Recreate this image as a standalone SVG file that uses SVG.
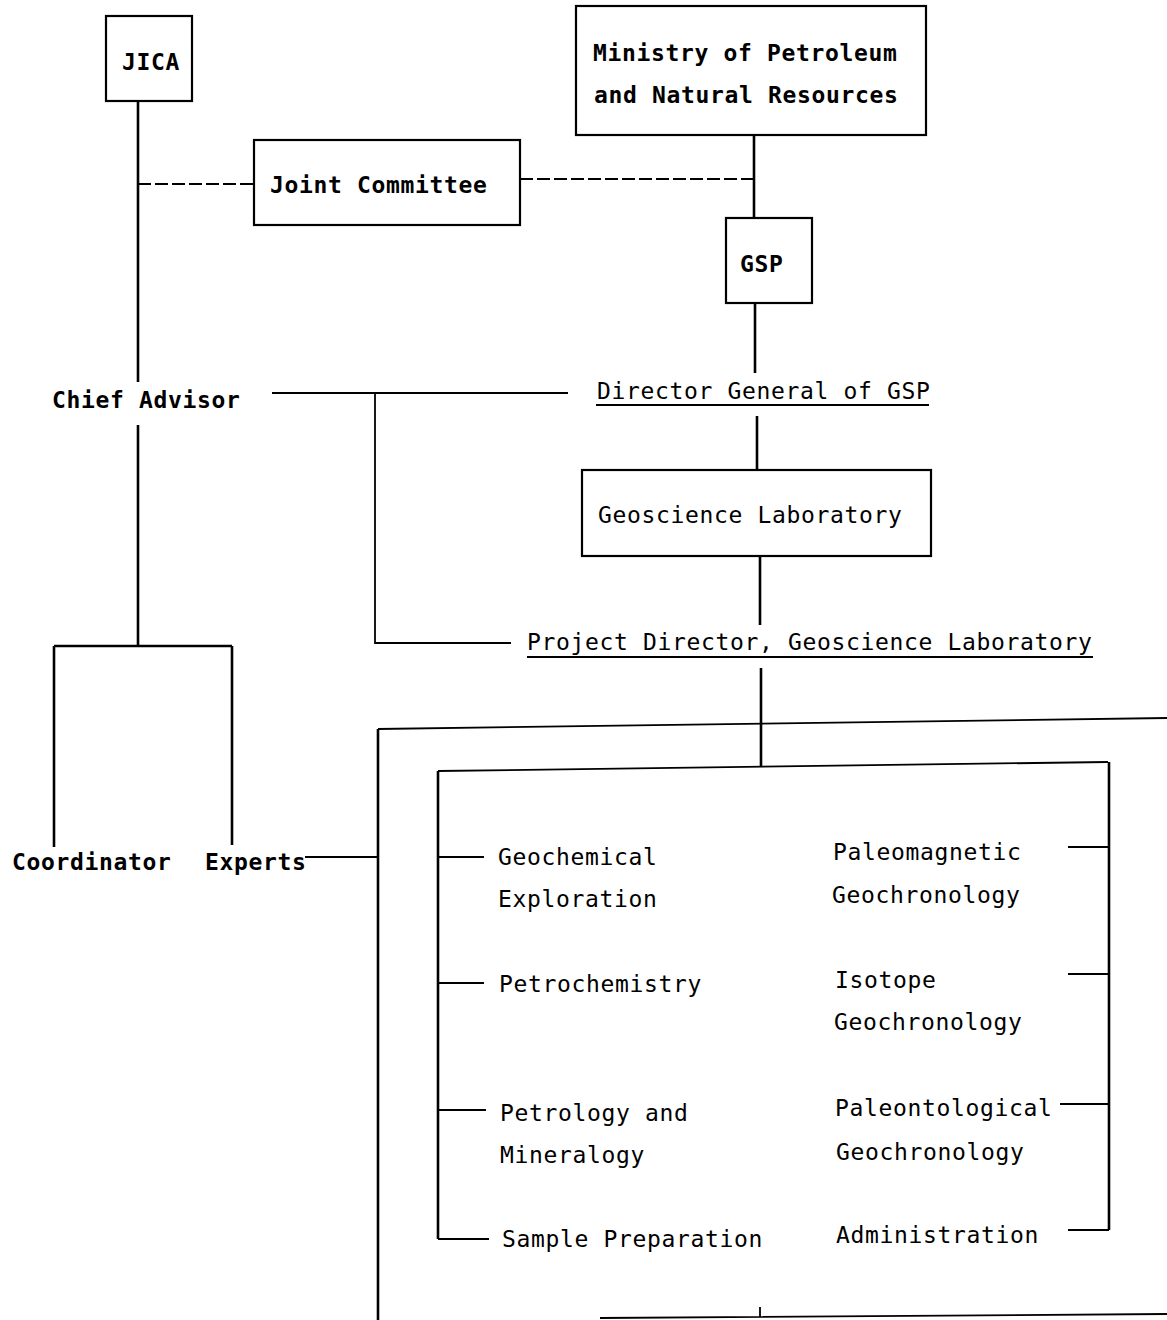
<svg xmlns="http://www.w3.org/2000/svg" width="1167" height="1320" viewBox="0 0 1167 1320">
<style>
.t{font-family:"DejaVu Sans Mono","Liberation Mono",monospace;font-size:23px;letter-spacing:0.65px;fill:#000}
.b{font-weight:bold}
.box{fill:#fff;stroke:#000;stroke-width:2.2}
.ln{stroke:#000;stroke-width:2.6;fill:none}
.th{stroke:#000;stroke-width:1.8;fill:none}
.ds{stroke:#000;stroke-width:1.8;fill:none;stroke-dasharray:13 4}
</style>
<rect width="1167" height="1320" fill="#fff"/>
<g id="connectors">
<path class="ln" d="M138 101V382M138 425V646M54 646H232M54 646V847M232 646V845"/>
<path class="ds" d="M138 184H254M520 179H754"/>
<path class="ln" d="M754 136V218M755 303V373M757 416V470M760 557V625M761 668V767"/>
<path class="th" d="M272 393H568M375 393V643H511"/>
<path class="th" d="M305 857H378"/>
<path class="ln" d="M378 729V1320"/>
<path class="th" d="M378 729L1167 718"/>
<path class="th" d="M600 1318L1167 1314M760 1307V1318"/>
<path class="th" d="M438 771L1108 762"/>
<path class="ln" d="M438 771V1239M1109 762V1230"/>
<path class="th" d="M438 857H484M438 983H484M438 1110H486M438 1239H489"/>
<path class="th" d="M1068 847H1109M1068 974H1109M1060 1104H1109M1068 1230H1109"/>
<path class="th" d="M596 405H929M527 657H1093"/>
</g>
<g id="jica"><rect class="box" x="106" y="16" width="86" height="85"/><text class="t b" x="122" y="70">JICA</text></g>
<g id="joint-committee"><rect class="box" x="254" y="140" width="266" height="85"/><text class="t b" x="270" y="193">Joint Committee</text></g>
<g id="ministry"><rect class="box" x="576" y="6" width="350" height="129"/><text class="t b" x="593" y="61">Ministry of Petroleum</text><text class="t b" x="594" y="103">and Natural Resources</text></g>
<g id="gsp"><rect class="box" x="726" y="218" width="86" height="85"/><text class="t b" x="740" y="272">GSP</text></g>
<g id="chief-advisor"><text class="t b" x="52" y="408">Chief Advisor</text></g>
<g id="director-general"><text class="t" x="597" y="399">Director General of GSP</text></g>
<g id="geoscience-lab"><rect class="box" x="582" y="470" width="349" height="86"/><text class="t" x="598" y="523">Geoscience Laboratory</text></g>
<g id="project-director"><text class="t" x="527" y="650">Project Director, Geoscience Laboratory</text></g>
<g id="coordinator"><text class="t b" x="12" y="870">Coordinator</text></g>
<g id="experts"><text class="t b" x="205" y="870">Experts</text></g>
<g id="geochemical"><text class="t" x="498" y="865">Geochemical</text><text class="t" x="498" y="907">Exploration</text></g>
<g id="petrochemistry"><text class="t" x="499" y="992">Petrochemistry</text></g>
<g id="petrology"><text class="t" x="500" y="1121">Petrology and</text><text class="t" x="500" y="1163">Mineralogy</text></g>
<g id="sample-prep"><text class="t" x="502" y="1247">Sample Preparation</text></g>
<g id="paleomagnetic"><text class="t" x="833" y="860">Paleomagnetic</text><text class="t" x="832" y="903">Geochronology</text></g>
<g id="isotope"><text class="t" x="835" y="988">Isotope</text><text class="t" x="834" y="1030">Geochronology</text></g>
<g id="paleontological"><text class="t" x="835" y="1116">Paleontological</text><text class="t" x="836" y="1160">Geochronology</text></g>
<g id="administration"><text class="t" x="836" y="1243">Administration</text></g>
</svg>
